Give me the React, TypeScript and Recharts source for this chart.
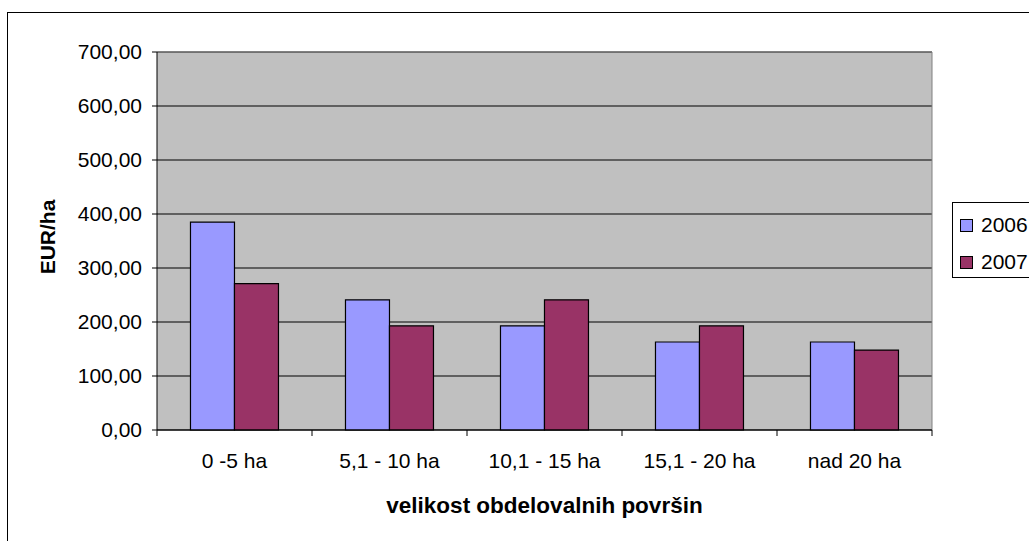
import React from "react";
import { BarChart, Bar, XAxis, YAxis, CartesianGrid, Legend } from "recharts";

const categories = ["0 -5 ha", "5,1 - 10 ha", "10,1 - 15 ha", "15,1 - 20 ha", "nad 20 ha"];
const values2006 = [385, 241, 193, 163, 163];
const values2007 = [271, 193, 241, 193, 148];
const yTicks = [0, 100, 200, 300, 400, 500, 600, 700];
const seriesNames = ["2006", "2007"];

const W = 1029;
const H = 541;
const MARGIN = { top: 52, right: 97, bottom: 0, left: 0 };
const X_AXIS_H = 111;
const Y_AXIS_W = 157;
const PLOT_W = W - MARGIN.left - MARGIN.right - Y_AXIS_W;
const BAND = PLOT_W / categories.length;
const FONT = "'Liberation Sans', Arial, sans-serif";
const X_TICK_SIZE = 6;
const X_TICK_MARGIN = 17;
const COLORS = ["#9999FF", "#993366"];

const data = categories.map((c, i) => ({ name: c, v2006: values2006[i], v2007: values2007[i] }));

const fmt = (v: number) => v.toFixed(2).replace(".", ",");

const XTick = (props: any) => {
  const { x, y, payload, index } = props;
  const axisY = y - X_TICK_SIZE - X_TICK_MARGIN;
  const last = index === categories.length - 1;
  return (
    <g>
      <line x1={x - BAND / 2} x2={x - BAND / 2} y1={axisY} y2={axisY + X_TICK_SIZE} stroke="#000" />
      {last && (
        <line x1={x + BAND / 2} x2={x + BAND / 2} y1={axisY} y2={axisY + X_TICK_SIZE} stroke="#000" />
      )}
      <text x={x} y={y} dy="0.71em" textAnchor="middle" fontSize={21} fontFamily={FONT} fill="#000">
        {payload.value}
      </text>
    </g>
  );
};

const LegendContent = () => (
  <div
    style={{
      border: "1px solid #000",
      background: "#fff",
      width: 100,
      height: 76,
      boxSizing: "border-box",
      fontFamily: FONT,
      fontSize: 21,
      color: "#000",
      position: "relative",
    }}
  >
    {seriesNames.map((n, i) => (
      <div
        key={n}
        style={{ position: "absolute", left: 7, top: 10 + i * 37, display: "flex", alignItems: "center", lineHeight: "24px" }}
      >
        <span
          style={{
            display: "inline-block",
            width: 11,
            height: 11,
            background: COLORS[i],
            border: "1px solid #000",
            marginRight: 8,
          }}
        />
        <span>{n}</span>
      </div>
    ))}
  </div>
);

export default function App() {
  return (
    <div style={{ position: "absolute", left: 0, top: 0, width: W, height: H, overflow: "hidden", background: "#fff" }}>
      <div
        style={{
          position: "absolute",
          left: 7,
          top: 12,
          width: 1100,
          height: 600,
          border: "1px solid #000",
          boxSizing: "border-box",
        }}
      />
      <div style={{ position: "absolute", left: 0, top: 0 }}>
        <BarChart
          width={W}
          height={H}
          data={data}
          margin={MARGIN}
          barCategoryGap="21.6%"
          barGap={0}
          style={{ fontFamily: FONT }}
        >
          <CartesianGrid vertical={false} fill="#C0C0C0" stroke="#000" strokeOpacity={1} />
          <CartesianGrid
            horizontal={true}
            vertical={true}
            fill="none"
            stroke="#808080"
            horizontalCoordinatesGenerator={(p: any) => [p.offset.top]}
            verticalCoordinatesGenerator={(p: any) => [p.offset.left + p.offset.width]}
          />
          <XAxis
            dataKey="name"
            tick={<XTick />}
            tickLine={false}
            tickSize={X_TICK_SIZE}
            tickMargin={X_TICK_MARGIN}
            height={X_AXIS_H}
            axisLine={{ stroke: "#000" }}
            interval={0}
            label={{
              content: (p: any) => {
                const vb = p.viewBox;
                return (
                  <text
                    x={vb.x + vb.width / 2}
                    y={vb.y + 75}
                    textAnchor="middle"
                    dominantBaseline="central"
                    fontSize={22.5}
                    fontWeight="bold"
                    fontFamily={FONT}
                    fill="#000"
                  >
                    velikost obdelovalnih površin
                  </text>
                );
              },
            }}
          />
          <YAxis
            width={Y_AXIS_W}
            domain={[0, 700]}
            ticks={yTicks}
            tickFormatter={fmt}
            tickSize={5}
            tickMargin={10}
            interval={0}
            axisLine={{ stroke: "#000" }}
            tickLine={{ stroke: "#000" }}
            tick={{ fontSize: 21, fill: "#000", fontFamily: FONT }}
            label={{
              content: (p: any) => {
                const vb = p.viewBox;
                const cx = 47.5;
                const cy = vb.y + vb.height / 2 - 4;
                return (
                  <text
                    x={cx}
                    y={cy}
                    transform={`rotate(-90 ${cx} ${cy})`}
                    textAnchor="middle"
                    dominantBaseline="central"
                    fontSize={21}
                    fontWeight="bold"
                    fontFamily={FONT}
                    fill="#000"
                  >
                    EUR/ha
                  </text>
                );
              },
            }}
          />
          <Legend
            layout="vertical"
            align="center"
            verticalAlign="middle"
            content={<LegendContent />}
            wrapperStyle={{ left: 952, top: 202, width: 100, height: 76 }}
          />
          <Bar dataKey="v2006" name="2006" fill={COLORS[0]} stroke="#000" strokeWidth={1.2} isAnimationActive={false} />
          <Bar dataKey="v2007" name="2007" fill={COLORS[1]} stroke="#000" strokeWidth={1.2} isAnimationActive={false} />
        </BarChart>
      </div>
    </div>
  );
}
